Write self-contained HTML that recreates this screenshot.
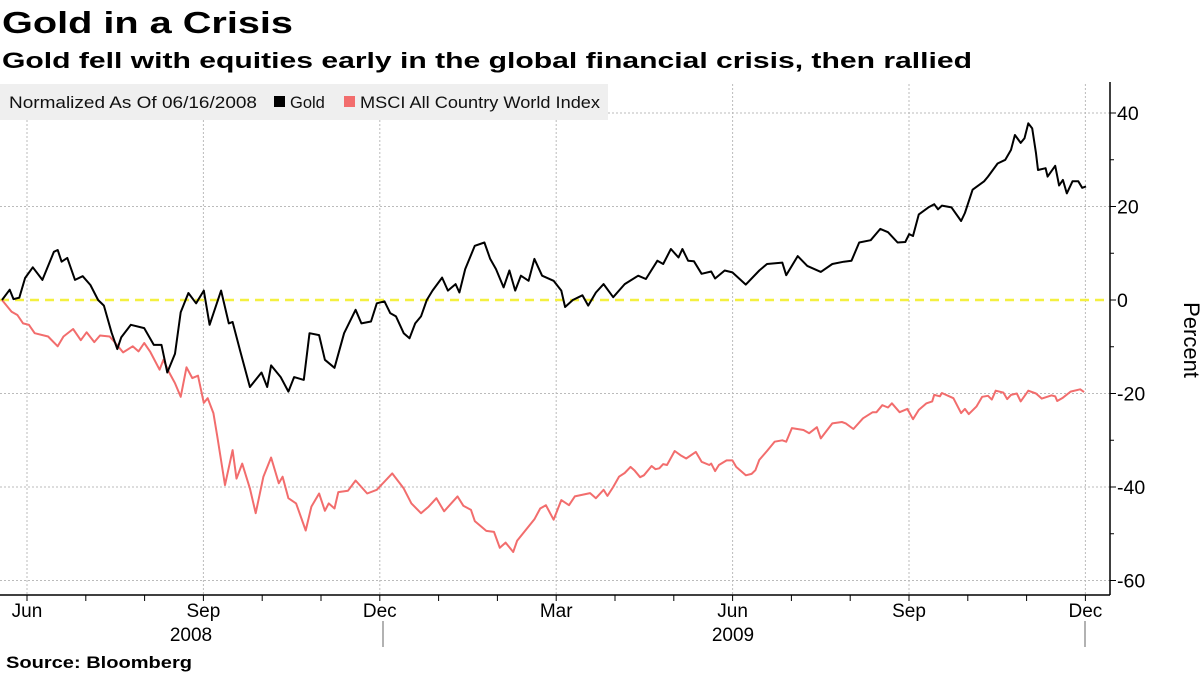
<!DOCTYPE html>
<html><head><meta charset="utf-8">
<style>
html,body{margin:0;padding:0;background:#fff;width:1200px;height:675px;overflow:hidden}
svg{display:block;font-family:"Liberation Sans",sans-serif}
</style></head>
<body>
<svg id="chart" width="1200" height="675" viewBox="0 0 1200 675">
  <text x="2" y="33" font-size="31" font-weight="bold" textLength="291" lengthAdjust="spacingAndGlyphs">Gold in a Crisis</text>
  <text x="2" y="68" font-size="22" font-weight="bold" textLength="970" lengthAdjust="spacingAndGlyphs">Gold fell with equities early in the global financial crisis, then rallied</text>
  <g id="grid"></g>
  <g id="series"></g>
  <g>
    <rect x="0" y="84" width="608" height="36" fill="#efefef"/>
    <text x="9" y="108" font-size="16.5" fill="#111" textLength="248" lengthAdjust="spacingAndGlyphs">Normalized As Of 06/16/2008</text>
    <rect x="274" y="96" width="11" height="11" fill="#000"/>
    <text x="290" y="108" font-size="16.5" fill="#111">Gold</text>
    <rect x="344" y="96" width="11" height="11" fill="#f26d6d"/>
    <text x="360" y="108" font-size="16.5" fill="#111" textLength="240" lengthAdjust="spacingAndGlyphs">MSCI All Country World Index</text>
  </g>
  <g id="axes"></g>
  <text transform="translate(1184,340) rotate(90)" font-size="22" text-anchor="middle">Percent</text>
  <text x="6" y="668" font-size="16.5" font-weight="bold" textLength="186" lengthAdjust="spacingAndGlyphs">Source: Bloomberg</text>
</svg>
<script>
// x data: days since 2008-06-16
const goldDays = [0,4,6,9,12,16,21,27,29,31,34,38,42,46,50,53,57,60,62,67,74,79,83,86,90,93,97,101,105,108,114,118,120,124,129,135,138,140,145,149,152,157,160,165,168,173,178,184,187,192,195,199,202,205,209,212,215,218,221,224,229,232,236,238,241,246,251,254,257,261,264,267,270,274,277,281,287,291,293,297,302,305,309,313,318,324,331,335,341,344,348,352,354,357,360,364,369,371,376,380,387,394,398,406,408,414,419,426,432,438,442,446,452,457,461,466,470,472,474,477,482,485,487,489,494,499,501,505,511,513,518,522,525,527,530,532,534,536,538,539,543,544,548,550,552,554,557,560,562,564];
const goldValues = [0,2.2,0.2,0.5,4.7,7,4.3,10.3,10.7,8.2,9,4.3,5.1,3.2,0,-1.2,-7,-10.5,-8,-5.3,-6,-9.6,-9.6,-15.5,-11.5,-2.6,1.5,-0.7,2,-5.3,2,-5,-4.7,-11,-18.6,-15.5,-18.6,-14,-16.5,-19.6,-16.5,-17.1,-7.1,-7.5,-12.8,-14.5,-7.1,-2.1,-5,-4.6,-0.7,-0.3,-2.8,-3.5,-7.1,-8.2,-5,-3.5,0,2,4.8,2,3.4,1.6,6.6,11.6,12.3,8.8,6.6,2.7,6.3,2,5.2,4.1,8.8,5.2,4.1,2,-1.5,0,1,-1.2,1.6,3.4,0.6,3.4,5.2,4.5,8.4,7.7,10.9,9.1,10.9,8.4,8.3,5.6,6.1,4.6,6.3,5.9,3.3,6.3,7.7,8,5.3,9.4,7.3,6,7.7,8.2,8.4,12.3,12.8,15.2,14.5,12.3,12.4,14.1,13.7,18.3,19.8,20.5,19.4,20.2,19.8,16.9,18.6,23.6,25.4,26.4,29.2,30,32.1,35.3,33.6,34.6,37.8,36.7,31.4,27.8,28.2,26.4,28.7,24.5,25.7,22.8,25.4,25.4,24,24.3];
const msciDays = [0,5,8,11,14,17,24,29,32,37,41,44,48,51,56,59,63,68,71,74,77,82,84,87,90,93,96,99,102,105,107,110,112,116,120,122,125,129,132,136,140,144,146,149,153,158,161,165,168,170,173,175,180,184,190,195,203,209,213,218,222,226,230,237,240,244,246,252,256,259,262,266,268,277,280,283,287,291,295,298,306,309,313,315,318,321,324,327,329,332,334,338,340,342,344,346,350,353,356,361,364,368,369,371,373,377,380,382,387,390,392,394,398,402,406,408,411,417,420,424,426,432,437,439,443,448,453,455,458,461,463,467,471,474,477,481,484,485,488,489,495,499,501,503,507,510,513,515,517,521,523,525,528,530,534,538,541,546,548,549,552,556,561,563];
const msciValues = [0,-2.5,-3.2,-5,-5.3,-7.1,-7.8,-9.9,-7.8,-6.2,-8.6,-6.9,-9,-7.6,-7.8,-9.2,-11.2,-9.9,-11,-9.2,-11,-14.9,-12.8,-15.5,-17.8,-20.7,-14.4,-16.7,-16.2,-22,-21,-24.2,-29.2,-39.6,-32.1,-38.2,-35,-40.3,-45.6,-37.8,-33.7,-39.2,-37.8,-42.4,-43.5,-49.3,-44.2,-41.4,-45.1,-43.5,-44.6,-41.1,-40.8,-38.6,-41.4,-40.6,-37.1,-40.3,-43.5,-45.6,-44.2,-42.4,-45.2,-42,-44,-44.9,-47.3,-49.4,-49.6,-53,-51.9,-53.9,-51.5,-46.9,-44.6,-43.9,-47,-42.8,-43.9,-42,-41.3,-42.4,-40.6,-41.9,-40,-37.8,-37,-35.7,-36.4,-37.9,-37.5,-35.5,-36.2,-36,-35.1,-35.3,-32.3,-33.2,-33.9,-32.5,-34.6,-35.3,-35,-36.6,-35.3,-34.3,-34.3,-35.7,-37.5,-37.2,-36.4,-34.2,-32.3,-30.3,-30,-30.3,-27.4,-27.8,-28.5,-27.2,-29.6,-26.4,-26.1,-26.4,-27.6,-25.3,-24,-24,-22.5,-23,-22.1,-24,-23.3,-25.5,-23.5,-22.1,-21.7,-20.3,-20.6,-19.9,-21,-24.2,-23.3,-24.4,-22.8,-20.7,-20.5,-21.3,-19.4,-19.8,-21.2,-20.3,-20,-21.7,-19.4,-20,-21.1,-20.4,-20.6,-21.6,-20.9,-19.6,-19.1,-19.7];
const yTicks = [40,20,0,-20,-40,-60];
const monthLabels = ["Jun","Sep","Dec","Mar","Jun","Sep","Dec"];
const yearLabels = ["2008","2009"];

const NS = "http://www.w3.org/2000/svg";
const X0 = 2, X1 = 1086, D0 = 0, D1 = 564;
const xs = d => X0 + (d - D0) / (D1 - D0) * (X1 - X0);
const ys = v => 300 - v * 4.675;
function mk(tag, attrs, parent) {
  const e = document.createElementNS(NS, tag);
  for (const k in attrs) e.setAttribute(k, attrs[k]);
  parent.appendChild(e);
  return e;
}
const grid = document.getElementById('grid');
const axes = document.getElementById('axes');
const series = document.getElementById('series');
const AXR = 1110, AXB = 595;
const monthX = k => 27 + k * 58.8;

yTicks.forEach(t => {
  if (t !== 0) {
    const g = mk('line', {x1: 0, x2: AXR, y1: ys(t), y2: ys(t), stroke: '#bbb', 'stroke-width': 1, 'stroke-dasharray': '2,2'}, grid);
    
    
  }
  const tk = mk('line', {x1: AXR, x2: AXR + 6, y1: ys(t), y2: ys(t), stroke: '#000', 'stroke-width': 1}, axes);
  
  
  const lb = mk('text', {x: AXR + 7, y: ys(t) + 7, 'font-size': 19.5, fill: '#000'}, axes);
  lb.textContent = t;
  
  
});
[30,10,-10,-30,-50].forEach(t => {
  const tk = mk('line', {x1: AXR, x2: AXR + 4, y1: ys(t), y2: ys(t), stroke: '#000', 'stroke-width': 1}, axes);
  
  
});
for (let q = 0; q < 7; q++) {
  const x = monthX(q * 3);
  const g = mk('line', {x1: x, x2: x, y1: 84, y2: AXB, stroke: '#bbb', 'stroke-width': 1, 'stroke-dasharray': '2,2'}, grid);
  
  
  const lb = mk('text', {x: x, y: 617, 'font-size': 19, 'text-anchor': 'middle', fill: '#000'}, axes);
  lb.textContent = monthLabels[q];
  
  
}
for (let k = 0; k <= 18; k++) {
  const tk = mk('line', {x1: monthX(k), x2: monthX(k), y1: AXB, y2: AXB + 6, stroke: '#000', 'stroke-width': 1}, axes);
  
  
}
[[191, 0], [733, 1]].forEach(([x, i]) => {
  const lb = mk('text', {x: x, y: 641, 'font-size': 19, 'text-anchor': 'middle', fill: '#000'}, axes);
  lb.textContent = yearLabels[i];
  
  
});
[383, 1085].forEach(x => {
  const s = mk('line', {x1: x, x2: x, y1: 621, y2: 647, stroke: '#666', 'stroke-width': 1}, axes);
  
  
});
const ax = mk('line', {x1: 0, x2: AXR, y1: AXB, y2: AXB, stroke: '#000', 'stroke-width': 1.5}, axes);


const ay = mk('line', {x1: AXR, x2: AXR, y1: 82, y2: AXB, stroke: '#000', 'stroke-width': 1.5}, axes);



const zero = mk('line', {x1: 0, x2: AXR, y1: ys(0), y2: ys(0), stroke: '#f4f040', 'stroke-width': 2.5, 'stroke-dasharray': '9,6'}, series);



function path(days, vals) {
  const n = Math.min(days.length, vals.length);
  let d = '';
  for (let i = 0; i < n; i++) d += (i ? 'L' : 'M') + xs(days[i]).toFixed(1) + ',' + ys(vals[i]).toFixed(1);
  return d;
}
const pm = mk('path', {d: path(msciDays, msciValues), fill: 'none', stroke: '#f26d6d', 'stroke-width': 2, 'stroke-linejoin': 'round'}, series);


const pg = mk('path', {d: path(goldDays, goldValues), fill: 'none', stroke: '#000', 'stroke-width': 2, 'stroke-linejoin': 'round'}, series);


</script>
</body></html>
